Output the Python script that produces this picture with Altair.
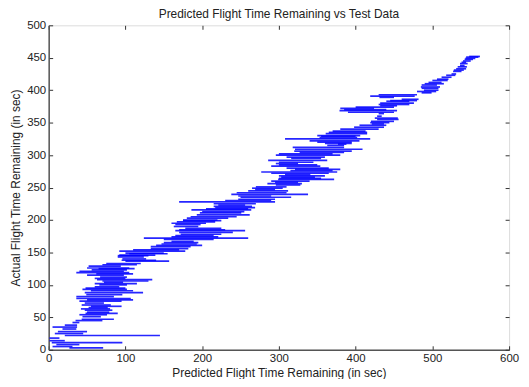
import altair as alt
import pandas as pd

# Horizontal spread of predicted remaining time at each actual remaining time (sec)
actual = [3, 5, 8, 11, 14, 18, 22, 25, 28, 32, 35, 38, 42, 45, 47, 51, 54, 56, 58, 61,
          63, 65, 67, 69, 72, 75, 77, 79, 82, 85, 88, 91, 93, 95, 97, 100, 102, 104, 106, 108,
          110, 112, 115, 117, 119, 121, 123, 125, 126, 129, 131, 133, 136.5, 138, 140, 143, 145, 146, 148, 149,
          152, 154, 156, 159, 161, 163, 165, 167, 170, 172, 174, 176, 178, 181, 183.5, 185, 187, 190, 193, 195,
          197, 199, 200, 203, 205, 208, 211, 213, 215.6, 217, 219, 221, 223, 225, 228, 230, 232, 235, 237, 239.6,
          242, 245, 247, 249, 251, 254, 256, 258, 260, 262.5, 264, 266, 268, 270, 272, 274, 276, 278, 280, 283,
          285, 287, 289, 292, 295, 297, 300, 302, 304, 306, 309, 312, 315, 317, 318, 320, 322, 325, 327, 329,
          330, 333, 335, 337, 340, 343, 346, 348, 350, 352, 355, 357, 360, 364, 366, 368.5, 370, 372, 374, 376,
          378, 380, 383, 384, 386, 389, 391, 393, 396, 398, 400, 403, 405, 408, 410, 412, 415, 417, 420, 423,
          425, 429, 431, 433, 436, 438, 441, 443, 445, 447.5, 449, 451, 452]
pred_lo = [27, 5, 10, 4, 1, 1, 21, 8, 12, 18, 5, 21, 31, 35, 43, 44, 40, 48, 50, 47,
           42, 52, 55, 43, 47, 40, 50, 36, 36, 49, 47, 55, 44, 48, 60, 66, 60, 72, 70, 63,
           60, 67, 50, 62, 36, 40, 56, 65, 50, 52, 70, 75, 100, 95, 96, 90, 90, 92, 105, 100,
           92, 110, 133, 133, 140, 147, 150, 160, 150, 124, 160, 165, 172, 170, 165, 170, 178, 163, 165, 160,
           167, 175, 175, 180, 185, 193, 197, 200, 186, 205, 217, 215, 221, 215, 170, 230, 247, 250, 247, 238,
           245, 260, 269, 265, 270, 296, 285, 295, 290, 299, 300, 303, 300, 308, 290, 277, 315, 321, 310, 290,
           300, 296, 300, 286, 316, 310, 296, 300, 327, 320, 321, 318, 363, 377, 360, 350, 340, 308, 353, 355,
           350, 361, 365, 370, 380, 398, 405, 421, 419, 420, 428, 425, 428, 430, 390, 379, 385, 380, 400, 432,
           430, 432, 440, 445, 460, 431, 419, 430, 486, 480, 489, 486, 485, 486, 490, 495, 500, 506, 512, 518,
           525, 527, 528, 531, 533, 536, 536, 538, 540, 542, 543, 544, 548]
pred_hi = [71, 31, 40, 96, 21, 14, 145, 45, 50, 36, 37, 37, 40, 70, 85, 68, 76, 90, 79, 83,
           80, 77, 95, 81, 72, 95, 110, 107, 85, 96, 123, 110, 102, 100, 92, 102, 115, 97, 130, 135,
           100, 102, 98, 110, 105, 98, 102, 112, 105, 94, 115, 120, 157, 140, 127, 124, 130, 139, 155, 150,
           178, 170, 182, 185, 200, 193, 195, 189, 215, 260, 221, 215, 225, 240, 256, 230, 225, 195, 198, 205,
           217, 225, 220, 234, 245, 262, 251, 255, 264, 260, 269, 265, 256, 270, 295, 290, 295, 316, 290, 338,
           310, 312, 295, 305, 310, 328, 330, 325, 340, 372, 355, 347, 360, 341, 365, 376, 370, 380, 365, 354,
           350, 325, 345, 363, 355, 360, 380, 370, 385, 395, 409, 385, 385, 388, 395, 395, 405, 419, 402, 400,
           406, 415, 415, 413, 430, 437, 440, 437, 444, 450, 456, 455, 434, 437, 450, 454, 440, 424, 450, 454,
           470, 476, 470, 480, 482, 450, 477, 480, 499, 505, 508, 508, 510, 506, 515, 512, 520, 521, 525, 530,
           531, 538, 541, 544, 545, 542, 546, 544, 550, 553, 556, 560, 562]

x_ticks = [0, 100, 200, 300, 400, 500, 600]
y_ticks = [0, 50, 100, 150, 200, 250, 300, 350, 400, 450, 500]

df = pd.DataFrame({"actual": actual, "lo": pred_lo, "hi": pred_hi})

FONT = "Liberation Sans"
xs = alt.Scale(domain=[0, 600], nice=False, zero=False)
ys = alt.Scale(domain=[0, 500], nice=False, zero=False)

base = alt.Chart(df)

segments = base.mark_rule(color="#0000ff", strokeWidth=1.7, opacity=0.85).encode(
    x=alt.X("lo:Q", scale=xs, axis=alt.Axis(
        orient="bottom", values=x_ticks, offset=-4, tickSize=4, domain=False, grid=False,
        labelPadding=3, labelFlush=False, labelFontSize=11.5, labelFont=FONT, labelColor="#222",
        tickColor="#333", title="Predicted Flight Time Remaining (in sec)", titleFont=FONT,
        titleFontSize=12, titleFontWeight="normal", titleColor="#222", titlePadding=3)),
    x2="hi:Q",
    y=alt.Y("actual:Q", scale=ys, axis=alt.Axis(
        orient="left", values=y_ticks, offset=-4, tickSize=4, domain=False, grid=False,
        labelPadding=3, labelFlush=False, labelFontSize=11.5, labelFont=FONT, labelColor="#222",
        tickColor="#333", title="Actual Flight Time Remaining (in sec)", titleFont=FONT,
        titleFontSize=12, titleFontWeight="normal", titleColor="#222", titlePadding=4)),
)

inner_ticks = base.mark_rule(opacity=0).encode(
    x=alt.X("lo:Q", scale=xs, axis=alt.Axis(
        orient="top", values=x_ticks, offset=-4, tickSize=4, domain=False, grid=False,
        labels=False, tickColor="#333", title=None)),
    x2="hi:Q",
    y=alt.Y("actual:Q", scale=ys, axis=alt.Axis(
        orient="right", values=y_ticks, offset=-4, tickSize=4, domain=False, grid=False,
        labels=False, tickColor="#333", title=None)),
)

frame = base.mark_rule(opacity=0).encode(
    x=alt.X("lo:Q", scale=xs, axis=alt.Axis(
        orient="bottom", domain=True, domainColor="#555", domainWidth=1.5, ticks=False,
        labels=False, grid=False, title=None)),
    x2="hi:Q",
    y=alt.Y("actual:Q", scale=ys, axis=alt.Axis(
        orient="left", domain=True, domainColor="#555", domainWidth=1.5, ticks=False,
        labels=False, grid=False, title=None)),
)

chart = alt.layer(segments, inner_ticks, frame).resolve_axis(
    x="independent", y="independent"
).properties(
    width=464,
    height=327,
    padding={"left": 41, "top": 16, "right": 12, "bottom": 28},
    autosize=alt.AutoSizeParams(type="none"),
    title=alt.TitleParams(
        "Predicted Flight Time Remaining vs Test Data", font=FONT, fontSize=12,
        fontWeight="normal", color="#222", baseline="alphabetic", offset=1, dy=12),
).configure_view(stroke="#aaaaaa", strokeWidth=1.2).configure(background="white")

chart.save("out.html", embed_options={"renderer": "svg", "actions": False})
